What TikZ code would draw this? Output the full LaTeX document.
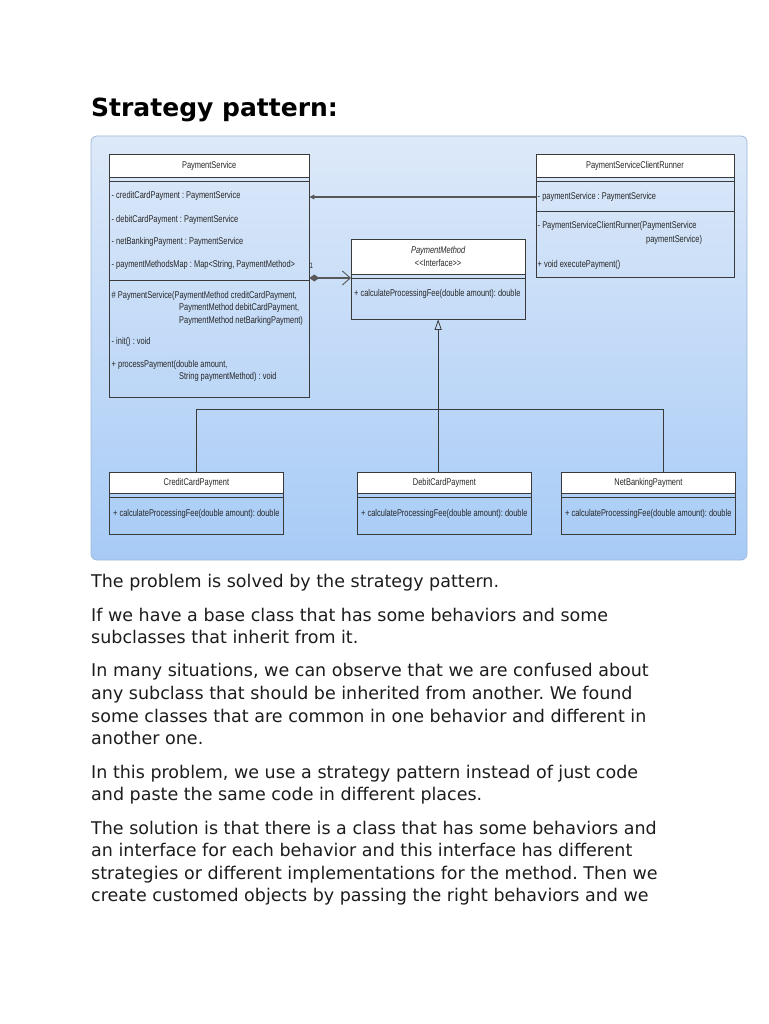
\documentclass[tikz,border=0pt]{standalone}
\usepackage{fontspec}
\setmainfont{DejaVu Sans}
\newfontfamily\umlfont[FakeStretch=0.76]{Liberation Sans}
\usetikzlibrary{arrows.meta,calc,positioning}
\definecolor{umlline}{HTML}{3A3A3A}
\definecolor{umltext}{HTML}{262626}
\definecolor{paneltop}{HTML}{DDE9F9}
\definecolor{panelbot}{HTML}{A7CBF6}
\definecolor{panelrim}{HTML}{9FB8D6}
\definecolor{bodytext}{HTML}{1C1C1C}
\frenchspacing
\tikzset{box/.style={draw=umlline,line width=.8pt,anchor=north west,inner sep=0pt},headbox/.style={box,fill=white,text=umltext,font=\umlfont\fontsize{9.8}{12.5}\selectfont},mem/.style={anchor=base west,inner sep=0pt,text=umltext,font=\umlfont\fontsize{9.8}{12.5}\selectfont},para/.style={anchor=base west,inner sep=0pt,text=bodytext,font=\fontsize{17.5}{22.6}\selectfont},rule/.style={draw=umlline,line width=.8pt},assoc/.style={-{Triangle[length=5pt,width=4.5pt]},draw=umlline!85,line width=1.3pt},compo/.style={{Diamond[length=10pt,width=7pt]}-{Straight Barb[length=8pt,width=14pt,line width=.9pt]},draw=umlline!85,line width=1.3pt},inherit/.style={draw=umlline,line width=.8pt}}

\begin{document}
\begin{tikzpicture}[x=1pt,y=-1pt]
 \useasboundingbox (0,0) rectangle (768,1024);
 \node[anchor=base west,inner sep=0pt,font=\bfseries\fontsize{25}{30}\selectfont] (title) at (91,117) {Strategy pattern:};
 \draw[panelrim,line width=.8pt,rounded corners=6pt,top color=paneltop,bottom color=panelbot] (91,136) rectangle (747,560);
 % PaymentService
 \node[box,minimum width=199.5pt,minimum height=243pt] (svc) at (109,154) {};
 \node[headbox,minimum width=199.5pt,minimum height=23pt] (svchead) at (svc.north west) {PaymentService};
 \draw[rule] ([yshift=-4pt]svchead.south west) -- ([yshift=-4pt]svchead.south east);
 \draw[rule] (svc.west |- 0,280) -- (svc.east |- 0,280);
 \node[mem] (sa1) at (111.5,198.7) {- creditCardPayment : PaymentService};
 \node[mem] (sa2) at (111.5,222.3) {- debitCardPayment : PaymentService};
 \node[mem] (sa3) at (111.5,244) {- netBankingPayment : PaymentService};
 \node[mem] (sa4) at (111.5,267.3) {- paymentMethodsMap : Map<String, PaymentMethod>};
 \node[mem] (sm1) at (111.5,298) {\# PaymentService(PaymentMethod creditCardPayment,};
 \node[mem] (sm2) at (179,310.7) {PaymentMethod debitCardPayment,};
 \node[mem] (sm3) at (179,323) {PaymentMethod netBarkingPayment)};
 \node[mem] (sm4) at (111.5,344.3) {- init() : void};
 \node[mem] (sm5) at (111.5,367.3) {+ processPayment(double amount,};
 \node[mem] (sm6) at (179,379.7) {String paymentMethod) : void};
 % PaymentServiceClientRunner
 \node[box,minimum width=198pt,minimum height=123pt] (runner) at (535.5,154) {};
 \node[headbox,minimum width=198pt,minimum height=23pt] (runnerhead) at (runner.north west) {PaymentServiceClientRunner};
 \draw[rule] ([yshift=-4pt]runnerhead.south west) -- ([yshift=-4pt]runnerhead.south east);
 \draw[rule] (runner.west |- 0,211) -- (runner.east |- 0,211);
 \node[mem] (ra1) at (537.5,199.5) {- paymentService : PaymentService};
 \node[mem] (rm1) at (537.5,229) {- PaymentServiceClientRunner(PaymentService};
 \node[mem] (rm2) at (646,242) {paymentService)};
 \node[mem] (rm3) at (537.5,267) {+ void executePayment()};
 % PaymentMethod interface
 \node[box,minimum width=173.5pt,minimum height=80pt] (iface) at (351,238.5) {};
 \node[headbox,minimum width=173.5pt,minimum height=35pt,align=center] (ifacehead) at (iface.north west) {\itshape PaymentMethod\\<\kern0pt<Interface>\kern0pt>};
 \draw[rule] ([yshift=-4pt]ifacehead.south west) -- ([yshift=-4pt]ifacehead.south east);
 \node[mem] (im1) at (354,296.5) {+ calculateProcessingFee(double amount): double};
 % strategies
 \foreach \n/\x/\t in {credit/109/CreditCardPayment,debit/357/DebitCardPayment,net/561/NetBankingPayment}{
  \node[box,minimum width=174pt,minimum height=61.5pt] (\n) at (\x,472) {};
  \node[headbox,minimum width=174pt,minimum height=21pt] (\n head) at (\n.north west) {\t};
  \draw[rule] ([yshift=-4pt]\n head.south west) -- ([yshift=-4pt]\n head.south east);
  \node[mem] (\n m1) at (\x+4,516.5) {+ calculateProcessingFee(double amount): double};
 }
 % connectors
 \draw[assoc] (runner.west |- ra1) -- (svc.east |- ra1);
 \draw[compo] (svc.east |- 0,278) -- (iface.west |- 0,278);
 \node[mem,font=\umlfont\fontsize{8}{9}\selectfont] (one) at (309.5,268.5) {1};
 \coordinate (bar) at (iface.south |- 0,409.5);
 \draw[inherit,-{Triangle[open,length=10.5pt,width=7pt]}] (bar) -- (iface.south);
 \draw[inherit] (credit.north) |- (bar) -| ($(net.north)+(14.5,0)$);
 \draw[inherit] (debit.north -| bar) -- (bar);
 % text below
 \foreach \y/\t [count=\i] in {587.7/{The problem is solved by the strategy pattern.},621/{If we have a base class that has some behaviors and some},643.6/{subclasses that inherit from it.},676.7/{In many situations, we can observe that we are confused about},699.3/{any subclass that should be inherited from another. We found},722/{some classes that are common in one behavior and different in},744.5/{another one.},778/{In this problem, we use a strategy pattern instead of just code},800.6/{and paste the same code in different places.},834/{The solution is that there is a class that has some behaviors and},856.6/{an interface for each behavior and this interface has different},879.2/{strategies or different implementations for the method. Then we},901.8/{create customed objects by passing the right behaviors and we}}
  \node[para] (line\i) at (91,\y) {\t};
\end{tikzpicture}
\end{document}
